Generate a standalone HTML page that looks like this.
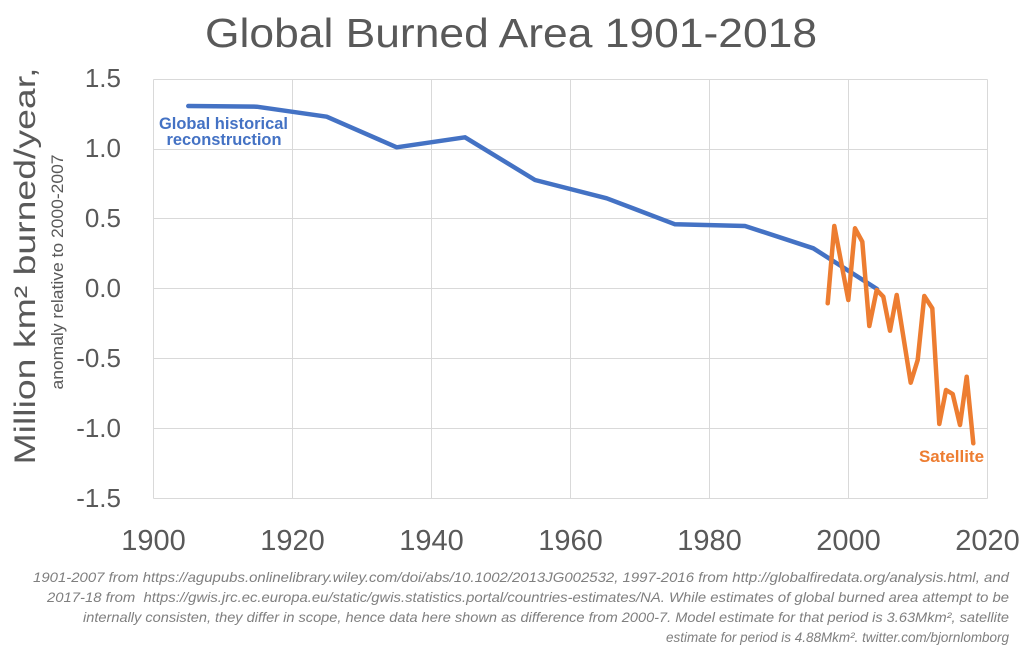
<!DOCTYPE html>
<html>
<head>
<meta charset="utf-8">
<style>
  html,body{margin:0;padding:0;background:#fff;}
  svg{display:block;}
  text{font-family:"Liberation Sans", Arial, sans-serif;}
</style>
</head>
<body>
<svg width="1024" height="653" viewBox="0 0 1024 653" xmlns="http://www.w3.org/2000/svg">
  <rect x="0" y="0" width="1024" height="653" fill="#ffffff"/>

  <!-- Title -->
  <text x="205" y="47" font-size="41" fill="#595959" textLength="612" lengthAdjust="spacingAndGlyphs">Global Burned Area 1901-2018</text>

  <!-- Gridlines -->
  <g stroke="#d9d9d9" stroke-width="1" fill="none">
    <line x1="153.5" y1="79.5" x2="987.5" y2="79.5"/>
    <line x1="153.5" y1="149.5" x2="987.5" y2="149.5"/>
    <line x1="153.5" y1="218.5" x2="987.5" y2="218.5"/>
    <line x1="153.5" y1="288.5" x2="987.5" y2="288.5"/>
    <line x1="153.5" y1="358.5" x2="987.5" y2="358.5"/>
    <line x1="153.5" y1="428.5" x2="987.5" y2="428.5"/>
    <line x1="153.5" y1="498.5" x2="987.5" y2="498.5"/>
    <line x1="153.5" y1="79.5" x2="153.5" y2="498.5"/>
    <line x1="292.5" y1="79.5" x2="292.5" y2="498.5"/>
    <line x1="431.5" y1="79.5" x2="431.5" y2="498.5"/>
    <line x1="570.5" y1="79.5" x2="570.5" y2="498.5"/>
    <line x1="709.5" y1="79.5" x2="709.5" y2="498.5"/>
    <line x1="848.5" y1="79.5" x2="848.5" y2="498.5"/>
    <line x1="987.5" y1="79.5" x2="987.5" y2="498.5"/>
  </g>

  <!-- Y tick labels -->
  <g font-size="26" fill="#595959" text-anchor="end">
    <text x="121" y="87">1.5</text>
    <text x="121" y="157">1.0</text>
    <text x="121" y="227">0.5</text>
    <text x="121" y="297">0.0</text>
    <text x="121" y="367">-0.5</text>
    <text x="121" y="437">-1.0</text>
    <text x="121" y="507">-1.5</text>
  </g>

  <!-- X tick labels -->
  <g font-size="29" fill="#595959" text-anchor="middle">
    <text x="153.5" y="550">1900</text>
    <text x="292.5" y="550">1920</text>
    <text x="431.5" y="550">1940</text>
    <text x="570.5" y="550">1960</text>
    <text x="709.5" y="550">1980</text>
    <text x="848.5" y="550">2000</text>
    <text x="987.5" y="550">2020</text>
  </g>

  <!-- Y axis titles -->
  <text transform="translate(35,266) rotate(-90)" text-anchor="middle" font-size="30" fill="#595959" textLength="397" lengthAdjust="spacingAndGlyphs">Million km² burned/year,</text>
  <text transform="translate(63,272) rotate(-90)" text-anchor="middle" font-size="17" fill="#595959" textLength="235" lengthAdjust="spacingAndGlyphs">anomaly relative to 2000-2007</text>

  <!-- Blue series -->
  <polyline fill="none" stroke="#4472C4" stroke-width="4.5" stroke-linejoin="round" stroke-linecap="round"
    points="188.3,106 256.7,106.7 326.7,116.7 396.7,147.3 465,137.3 535,180 606.7,198.3 675,224.3 745,226 813.3,248.3 877,289"/>

  <!-- Orange series -->
  <polyline fill="none" stroke="#ED7D31" stroke-width="4.5" stroke-linejoin="round" stroke-linecap="round"
    points="827.7,303.3 834.3,226 848.3,300 855,228.3 862.3,241.7 869.3,326 876.7,290 883.3,296.7 890,330.7 896.7,295 910.7,382.7 917.7,360 924.3,296 932.3,308.3 939.3,424 946,390 952.7,394 960,425 966.7,376.7 973.3,443.3"/>

  <!-- Series labels -->
  <g font-size="17" font-weight="bold" fill="#4472C4" text-anchor="middle">
    <text x="223.5" y="129" textLength="129" lengthAdjust="spacingAndGlyphs">Global historical</text>
    <text x="224" y="145" textLength="115" lengthAdjust="spacingAndGlyphs">reconstruction</text>
  </g>
  <text x="919" y="462" font-size="17" font-weight="bold" fill="#ED7D31" textLength="65" lengthAdjust="spacingAndGlyphs">Satellite</text>

  <!-- Footnote -->
  <g font-size="14" font-style="italic" fill="#7f7f7f">
    <text x="33" y="582" textLength="976" lengthAdjust="spacingAndGlyphs">1901-2007 from https://agupubs.onlinelibrary.wiley.com/doi/abs/10.1002/2013JG002532, 1997-2016 from http://globalfiredata.org/analysis.html, and</text>
    <text x="47" y="602" textLength="962" lengthAdjust="spacingAndGlyphs" xml:space="preserve">2017-18 from  https://gwis.jrc.ec.europa.eu/static/gwis.statistics.portal/countries-estimates/NA. While estimates of global burned area attempt to be</text>
    <text x="83" y="622" textLength="926" lengthAdjust="spacingAndGlyphs">internally consisten, they differ in scope, hence data here shown as difference from 2000-7. Model estimate for that period is 3.63Mkm², satellite</text>
    <text x="666" y="642" textLength="343" lengthAdjust="spacingAndGlyphs">estimate for period is 4.88Mkm². twitter.com/bjornlomborg</text>
  </g>
</svg>
</body>
</html>
